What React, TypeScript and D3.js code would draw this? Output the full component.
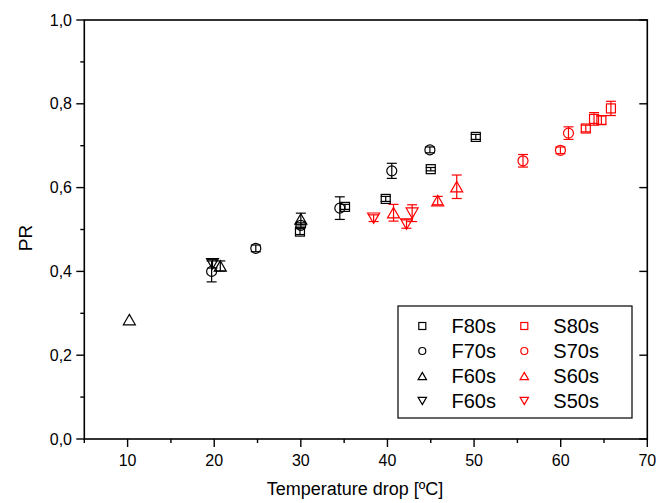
import React from "react";
import * as d3 from "d3";

// ---- data ----
const xTicks = [10, 20, 30, 40, 50, 60, 70];
const yTicks = [0, 0.2, 0.4, 0.6, 0.8, 1.0];
const yTickLabels = ["0,0", "0,2", "0,4", "0,6", "0,8", "1,0"];

const f80sX = [29.9, 35.1, 39.8, 45.0, 50.2];
const f80sY = [0.495, 0.554, 0.573, 0.644, 0.721];
const f80sErr = [0.007, 0.006, 0.006, 0.004, 0.006];

const f70sX = [19.7, 24.8, 30.0, 34.5, 40.5, 44.9];
const f70sY = [0.4, 0.455, 0.51, 0.551, 0.64, 0.69];
const f70sErr = [0.025, 0.008, 0.006, 0.027, 0.018, 0.007];

const f60sUpX = [10.2, 20.7, 30.0];
const f60sUpY = [0.285, 0.413, 0.525];
const f60sUpErr = [0, 0.012, 0.014];

const f60sDownX = [19.8];
const f60sDownY = [0.418];
const f60sDownErr = [0.01];

const s80sX = [62.9, 63.85, 64.7, 65.8];
const s80sY = [0.741, 0.764, 0.761, 0.789];
const s80sErr = [0.008, 0.015, 0.01, 0.017];

const s70sX = [55.65, 59.97, 60.9];
const s70sY = [0.664, 0.689, 0.73];
const s70sErr = [0.015, 0.008, 0.015];

const s60sX = [40.7, 45.8, 48.0];
const s60sY = [0.54, 0.569, 0.602];
const s60sErr = [0.02, 0.01, 0.028];

const s50sX = [38.4, 42.2, 42.85];
const s50sY = [0.527, 0.513, 0.539];
const s50sErr = [0.008, 0.01, 0.02];

const legendLeft = ["F80s", "F70s", "F60s", "F60s"];
const legendRight = ["S80s", "S70s", "S60s", "S50s"];

type Shape = "square" | "circle" | "up" | "down";

const seriesList: { x: number[]; y: number[]; e: number[]; shape: Shape; color: string }[] = [
  { x: f80sX, y: f80sY, e: f80sErr, shape: "square", color: "#000" },
  { x: f70sX, y: f70sY, e: f70sErr, shape: "circle", color: "#000" },
  { x: f60sUpX, y: f60sUpY, e: f60sUpErr, shape: "up", color: "#000" },
  { x: f60sDownX, y: f60sDownY, e: f60sDownErr, shape: "down", color: "#000" },
  { x: s80sX, y: s80sY, e: s80sErr, shape: "square", color: "#ff0000" },
  { x: s70sX, y: s70sY, e: s70sErr, shape: "circle", color: "#ff0000" },
  { x: s60sX, y: s60sY, e: s60sErr, shape: "up", color: "#ff0000" },
  { x: s50sX, y: s50sY, e: s50sErr, shape: "down", color: "#ff0000" },
];

const FONT = "'Liberation Sans', Arial, sans-serif";

function Marker({ shape, cx, cy, s, color }: { shape: Shape; cx: number; cy: number; s: number; color: string }) {
  const sw = 1.2;
  if (shape === "square")
    return <rect x={cx - s / 2} y={cy - s / 2} width={s} height={s} fill="none" stroke={color} strokeWidth={sw} />;
  if (shape === "circle") return <circle cx={cx} cy={cy} r={s / 2} fill="none" stroke={color} strokeWidth={sw} />;
  const w = s * 0.6;
  const h = s * 0.52;
  const pts =
    shape === "up"
      ? [[cx, cy - h], [cx + w, cy + h], [cx - w, cy + h]]
      : [[cx, cy + h], [cx + w, cy - h], [cx - w, cy - h]];
  return <polygon points={pts.map((p) => p.join(",")).join(" ")} fill="none" stroke={color} strokeWidth={sw} />;
}

export default function App() {
  const W = 656;
  const H = 503;
  const left = 84.3;
  const right = 647.3;
  const top = 20;
  const bottom = 439;
  const x = d3.scaleLinear().domain([5, 70]).range([left, right]);
  const y = d3.scaleLinear().domain([0, 1]).range([bottom, top]);
  const xMinor = d3.range(5, 71, 5);
  const yMinor = d3.range(0, 1.0001, 0.1);

  return (
    <svg width={W} height={H} style={{ position: "absolute", left: 0, top: 0, background: "#fff" }} fontFamily={FONT}>
      <rect x={0} y={0} width={W} height={H} fill="#fff" />
      {/* error bars */}
      {seriesList.map((s, si) =>
        s.x.map((xv, i) => {
          const e = s.e[i];
          if (!e) return null;
          const cx = x(xv);
          const y1 = y(s.y[i] + e);
          const y2 = y(s.y[i] - e);
          return (
            <g key={`e${si}-${i}`} stroke={s.color} strokeWidth={1.2}>
              <line x1={cx} x2={cx} y1={y1} y2={y2} />
              <line x1={cx - 5} x2={cx + 5} y1={y1} y2={y1} />
              <line x1={cx - 5} x2={cx + 5} y1={y2} y2={y2} />
            </g>
          );
        })
      )}
      {/* markers */}
      {seriesList.map((s, si) =>
        s.x.map((xv, i) => (
          <Marker key={`m${si}-${i}`} shape={s.shape} cx={x(xv)} cy={y(s.y[i])} s={s.shape === "square" ? 9 : 10} color={s.color} />
        ))
      )}
      {/* frame */}
      <rect x={left} y={top} width={right - left} height={bottom - top} fill="none" stroke="#000" strokeWidth={1.6} />
      {/* x ticks */}
      {xMinor.map((v) => {
        const major = v % 10 === 0;
        return <line key={`xt${v}`} x1={x(v)} x2={x(v)} y1={bottom} y2={bottom + (major ? 8 : 4)} stroke="#000" strokeWidth={1.4} />;
      })}
      {xTicks.map((v) => (
        <text key={`xl${v}`} x={x(v)} y={466} fontSize={16} textAnchor="middle" fill="#000">
          {v}
        </text>
      ))}
      {/* y ticks */}
      {yMinor.map((v, i) => {
        const major = i % 2 === 0;
        return (
          <g key={`yt${i}`}>
            <line x1={left} x2={left - (major ? 8 : 4)} y1={y(v)} y2={y(v)} stroke="#000" strokeWidth={1.4} />
            {major && <line x1={right} x2={right - 8} y1={y(v)} y2={y(v)} stroke="#000" strokeWidth={1.4} />}
          </g>
        );
      })}
      {yTicks.map((v, i) => (
        <text key={`yl${i}`} x={72} y={y(v)} dy="0.35em" fontSize={16} textAnchor="end" fill="#000">
          {yTickLabels[i]}
        </text>
      ))}
      {/* axis titles */}
      <text x={355} y={495} fontSize={18} textAnchor="middle" fill="#000">
        Temperature drop [ºC]
      </text>
      <text transform={`translate(32,238) rotate(-90)`} fontSize={19} textAnchor="middle" fill="#000">
        PR
      </text>
      {/* legend */}
      <rect x={398} y={306} width={234} height={112} fill="#fff" stroke="#000" strokeWidth={1.2} />
      {legendLeft.map((t, i) => {
        const cy = 326 + i * 25;
        const shapes: Shape[] = ["square", "circle", "up", "down"];
        return (
          <g key={`ll${i}`}>
            <Marker shape={shapes[i]} cx={422.3} cy={cy} s={7} color="#000" />
            <text x={451.5} y={cy} dy="0.36em" fontSize={20} fill="#000">
              {t}
            </text>
            <Marker shape={shapes[i]} cx={524.3} cy={cy} s={7} color="#ff0000" />
            <text x={553.3} y={cy} dy="0.36em" fontSize={20} fill="#000">
              {legendRight[i]}
            </text>
          </g>
        );
      })}
    </svg>
  );
}
